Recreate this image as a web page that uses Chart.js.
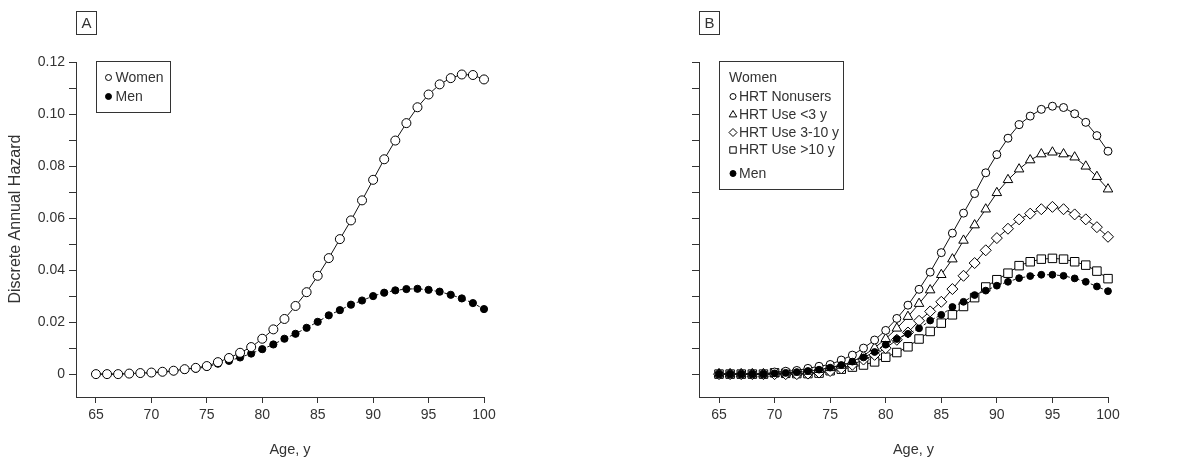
<!DOCTYPE html>
<html>
<head>
<meta charset="utf-8">
<script src="https://cdn.jsdelivr.net/npm/chart.js@4.4.0/dist/chart.umd.min.js"></script>
<style>
  html, body { margin: 0; padding: 0; background: #fff; }
  #wrap { position: relative; width: 1199px; height: 461px; }
  .pane { position: absolute; top: 0; }
</style>
</head>
<body>
<div id="wrap">
  <div class="pane" style="left:0;width:600px;height:461px"><canvas id="cA" width="600" height="461"></canvas></div>
  <div class="pane" style="left:600px;width:599px;height:461px"><canvas id="cB" width="599" height="461"></canvas></div>
</div>
<script>
const ages = [65,66,67,68,69,70,71,72,73,74,75,76,77,78,79,80,81,82,83,84,85,86,87,88,89,90,91,92,93,94,95,96,97,98,99,100];

// Panel A
const womenA = [0,0,0,0.0002,0.0004,0.0006,0.0009,0.0013,0.0019,0.0024,0.0031,0.0046,0.0062,0.0082,0.0104,0.0136,0.0172,0.0212,0.0262,0.0315,0.0378,0.0446,0.0519,0.0591,0.0668,0.0747,0.0826,0.0898,0.0965,0.1026,0.1075,0.1114,0.1138,0.1152,0.1150,0.1133];
const menA = [0,0,0,0.0002,0.0003,0.0005,0.0008,0.0011,0.0016,0.0021,0.0028,0.0040,0.0051,0.0064,0.0079,0.0096,0.0114,0.0136,0.0155,0.0178,0.0201,0.0226,0.0246,0.0267,0.0283,0.0300,0.0313,0.0322,0.0327,0.0328,0.0324,0.0317,0.0305,0.0291,0.0273,0.0250];

// Panel B
const hrtNonusers = [0,0,0,0,0,0.0008,0.0011,0.0014,0.0022,0.0030,0.0037,0.0054,0.0073,0.0100,0.0131,0.0168,0.0214,0.0265,0.0326,0.0392,0.0467,0.0542,0.0619,0.0694,0.0774,0.0844,0.0907,0.0959,0.0992,0.1018,0.1030,0.1025,0.1001,0.0968,0.0917,0.0857];
const hrtLt3 = [0,0,0,0,0,0.0002,0.0004,0.0007,0.0010,0.0017,0.0024,0.0033,0.0048,0.0071,0.0101,0.0136,0.0176,0.0221,0.0271,0.0323,0.0382,0.0442,0.0514,0.0573,0.0634,0.0697,0.0747,0.0788,0.0823,0.0846,0.0853,0.0846,0.0834,0.0799,0.0759,0.0711];
const hrt3to10 = [0,0,0,0,0,0,0,0,0.0002,0.0006,0.0012,0.0022,0.0036,0.0056,0.0074,0.0100,0.0132,0.0160,0.0205,0.0241,0.0278,0.0327,0.0378,0.0427,0.0476,0.0523,0.0559,0.0595,0.0617,0.0634,0.0643,0.0634,0.0614,0.0595,0.0565,0.0528];
const hrtGt10 = [0,0,0,0,0,0.0005,0.0003,0.0002,0.0002,0.0004,0.0013,0.0019,0.0027,0.0035,0.0047,0.0065,0.0083,0.0105,0.0135,0.0164,0.0196,0.0228,0.0260,0.0294,0.0335,0.0363,0.0388,0.0417,0.0432,0.0442,0.0445,0.0442,0.0432,0.0419,0.0396,0.0367];
const menB = [0,0,0,0,0,0.0003,0.0005,0.0008,0.0012,0.0017,0.0025,0.0035,0.0048,0.0064,0.0085,0.0113,0.0135,0.0155,0.0176,0.0206,0.0228,0.0258,0.0278,0.0304,0.0321,0.0340,0.0355,0.0369,0.0377,0.0382,0.0382,0.0378,0.0368,0.0355,0.0337,0.0319];

const xTicks = [65,70,75,80,85,90,95,100];
const yTicks = [0,0.01,0.02,0.03,0.04,0.05,0.06,0.07,0.08,0.09,0.10,0.11,0.12];
const yLabelTicks = [0,0.02,0.04,0.06,0.08,0.10,0.12];

const FONT = "'Liberation Sans', Arial, sans-serif";
const INK = '#333';
const LINE = '#111';

function pts(vals) { return ages.map((a, i) => ({ x: a, y: vals[i] })); }

function ds(label, vals, style, radius, filled, dashed, order) {
  return {
    label, data: pts(vals), order, clip: false,
    borderColor: LINE, borderWidth: 1, borderDash: dashed ? [3, 2] : [],
    pointStyle: style, pointRadius: radius, pointHoverRadius: radius,
    pointBackgroundColor: filled ? '#000' : '#fff', pointBorderColor: '#000', pointBorderWidth: 1,
    tension: 0, fill: false
  };
}

function drawMarker(ctx, style, x, y, r, filled) {
  ctx.save();
  ctx.beginPath();
  ctx.lineWidth = 1;
  ctx.strokeStyle = '#000';
  ctx.fillStyle = filled ? '#000' : '#fff';
  if (style === 'circle') {
    ctx.arc(x, y, r, 0, Math.PI * 2);
  } else if (style === 'triangle') {
    ctx.moveTo(x, y - r);
    ctx.lineTo(x + r * 0.95, y + r * 0.6);
    ctx.lineTo(x - r * 0.95, y + r * 0.6);
    ctx.closePath();
  } else if (style === 'rectRot') {
    ctx.moveTo(x, y - r); ctx.lineTo(x + r, y); ctx.lineTo(x, y + r); ctx.lineTo(x - r, y); ctx.closePath();
  } else if (style === 'rect') {
    ctx.rect(x - r * 0.8, y - r * 0.8, r * 1.6, r * 1.6);
  }
  ctx.fill(); ctx.stroke();
  ctx.restore();
}

function makeDecor(cfg) {
  return {
    id: 'decor',
    afterDraw(chart) {
      const ctx = chart.ctx;
      const ca = chart.chartArea;
      const xs = chart.scales.x;
      const ys = chart.scales.y;
      ctx.save();
      ctx.fillStyle = INK;
      ctx.font = '14.5px ' + FONT;
      ctx.textAlign = 'center'; ctx.textBaseline = 'middle';
      ctx.fillText('Age, y', xs.getPixelForValue((ages[0] + ages[ages.length - 1]) / 2), 450);
      if (cfg.yTitle) {
        ctx.save();
        ctx.font = '16px ' + FONT;
        ctx.translate(16, ys.getPixelForValue(0.06) + 1);
        ctx.rotate(-Math.PI / 2);
        ctx.fillText(cfg.yTitle, 0, 0);
        ctx.restore();
      }
      ctx.strokeStyle = INK; ctx.lineWidth = 1;
      const bx = Math.round(ca.left) + 0.5, bw = 20, by = 11.5, bh = 23;
      ctx.strokeRect(bx, by, bw, bh);
      ctx.font = '15px ' + FONT;
      ctx.fillText(cfg.panel, bx + bw / 2, by + bh / 2 + 0.5);
      const L = cfg.legend;
      const lx = Math.round(ca.left + L.dx) + 0.5, ly = 61.5;
      ctx.strokeStyle = INK;
      ctx.strokeRect(lx, ly, L.w, L.h);
      ctx.font = '14px ' + FONT;
      ctx.textAlign = 'left';
      L.items.forEach(it => {
        if (it.marker) drawMarker(ctx, it.marker, lx + it.mx, ly + it.y, it.r, it.filled);
        ctx.fillStyle = INK;
        ctx.fillText(it.text, lx + it.tx, ly + it.y + 0.5);
      });
      ctx.restore();
    }
  };
}

function makeOptions(yWidth, padRight, showYLabels) {
  return {
    responsive: false, animation: false, devicePixelRatio: 1,
    layout: { padding: { left: 0, right: padRight, top: 62, bottom: 0 } },
    plugins: { legend: { display: false }, tooltip: { enabled: false } },
    scales: {
      x: {
        type: 'linear', min: 63.2, max: 100,
        afterBuildTicks: s => { s.ticks = xTicks.map(v => ({ value: v })); },
        afterFit: s => { s.height = 64; },
        grid: { display: true, drawOnChartArea: false, drawTicks: true, tickLength: 6, color: INK },
        border: { display: true, color: INK, width: 1 },
        ticks: { color: INK, font: { family: FONT, size: 14 }, padding: 4, maxRotation: 0, autoSkip: false,
                 callback: v => String(v) }
      },
      y: {
        type: 'linear', min: -0.0088, max: 0.12,
        afterBuildTicks: s => { s.ticks = yTicks.map(v => ({ value: v })); },
        afterFit: s => { s.width = yWidth; },
        grid: { display: true, drawOnChartArea: false, drawTicks: true, tickLength: 7, color: INK },
        border: { display: true, color: INK, width: 1 },
        ticks: { color: INK, font: { family: FONT, size: 14 }, padding: 4, autoSkip: false,
                 callback: v => {
                   if (!showYLabels) return '';
                   const hit = yLabelTicks.some(t => Math.abs(t - v) < 1e-9);
                   if (!hit) return '';
                   return v === 0 ? '0' : v.toFixed(2);
                 } }
      }
    }
  };
}

new Chart(document.getElementById('cA'), {
  type: 'line',
  data: { datasets: [
    ds('Women', womenA, 'circle', 4.5, false, false, 0),
    ds('Men', menA, 'circle', 3.6, true, true, 1)
  ] },
  options: makeOptions(76, 116, true),
  plugins: [makeDecor({
    panel: 'A', yTitle: 'Discrete Annual Hazard',
    legend: { dx: 20, w: 74, h: 51, items: [
      { marker: 'circle', r: 3, filled: false, mx: 12, tx: 19, y: 16, text: 'Women' },
      { marker: 'circle', r: 3, filled: true, mx: 12, tx: 19, y: 35, text: 'Men' }
    ] }
  })]
});

new Chart(document.getElementById('cB'), {
  type: 'line',
  data: { datasets: [
    ds('HRT Nonusers', hrtNonusers, 'circle', 4, false, false, 1),
    ds('HRT Use <3 y', hrtLt3, 'triangle', 5.5, false, false, 2),
    ds('HRT Use 3-10 y', hrt3to10, 'rectRot', 5.5, false, false, 3),
    ds('HRT Use >10 y', hrtGt10, 'rect', 6, false, false, 4),
    ds('Men', menB, 'circle', 3.4, true, true, 0)
  ] },
  options: makeOptions(99, 91, false),
  plugins: [makeDecor({
    panel: 'B', yTitle: null,
    legend: { dx: 19.5, w: 124, h: 128, items: [
      { text: 'Women', tx: 9.5, y: 16.5 },
      { marker: 'circle', r: 3, filled: false, mx: 13.5, tx: 19.5, y: 35, text: 'HRT Nonusers' },
      { marker: 'triangle', r: 4, filled: false, mx: 13.5, tx: 19.5, y: 53, text: 'HRT Use <3 y' },
      { marker: 'rectRot', r: 4, filled: false, mx: 13.5, tx: 19.5, y: 71, text: 'HRT Use 3-10 y' },
      { marker: 'rect', r: 4, filled: false, mx: 13.5, tx: 19.5, y: 88.5, text: 'HRT Use >10 y' },
      { marker: 'circle', r: 3, filled: true, mx: 13.5, tx: 19.5, y: 112, text: 'Men' }
    ] }
  })]
});
</script>
</body>
</html>
